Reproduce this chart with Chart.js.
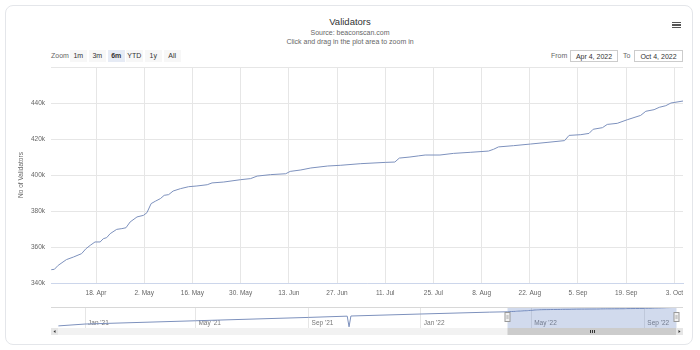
<!DOCTYPE html>
<html>
<head>
<meta charset="utf-8">
<script src="https://cdn.jsdelivr.net/npm/chart.js@4.4.0/dist/chart.umd.min.js"></script>
<style>
  html, body { margin: 0; padding: 0; background: #fff; }
  body { width: 700px; height: 350px; position: relative; overflow: hidden; font-family: "Liberation Sans", Arial, sans-serif; }
  .card { position: absolute; left: 5px; top: 5px; width: 688px; height: 340px; border: 1px solid #e4e6ea; border-radius: 8px; box-sizing: border-box; }
  .abs { position: absolute; white-space: nowrap; }
  .title { left: 0; width: 700px; top: 16px; text-align: center; font-size: 9.5px; color: #333; }
  .sub { left: 0; width: 700px; top: 27.5px; text-align: center; font-size: 7px; line-height: 9px; color: #666; }
  .menu { left: 672px; top: 22px; width: 9px; }
  .menu div { height: 1.3px; background: #555; margin-bottom: 1.2px; }
  .zoomlbl { left: 51px; top: 52px; font-size: 7px; color: #666; }
  .btn { top: 50px; width: 16.5px; height: 12px; line-height: 12px; background: #f7f7f7; text-align: center; font-size: 7px; color: #333; }
  .btn.sel { background: #e6ebf5; font-weight: bold; }
  .rl { top: 52px; font-size: 7px; color: #666; }
  .box { top: 50px; height: 12px; line-height: 11px; border: 1px solid #ccc; box-sizing: border-box; text-align: center; font-size: 7px; color: #333; }
  canvas { position: absolute; left: 0; }
</style>
</head>
<body>
<div class="card"></div>
<div class="abs title">Validators</div>
<div class="abs sub">Source: beaconscan.com<br>Click and drag in the plot area to zoom in</div>
<div class="abs menu"><div></div><div></div><div></div></div>
<div class="abs zoomlbl">Zoom</div>
<div id="buttons"></div>
<div class="abs rl" style="left:551px">From</div>
<div class="abs box" style="left:570px;width:48px">Apr 4, 2022</div>
<div class="abs rl" style="left:623px">To</div>
<div class="abs box" style="left:634px;width:49px">Oct 4, 2022</div>
<canvas id="mainChart" width="700" height="300" style="top:0"></canvas>
<canvas id="navChart" width="700" height="50" style="top:300px"></canvas>
<script>
// days counted from Apr 4, 2022
const dayOffsets = [1, 1.9, 3, 5.4, 7.4, 9.8, 11.1, 12.3, 13.7, 15.2, 16.1, 17.1, 18.1, 20, 21.5, 22.7, 23.9,
    25.9, 27.8, 28.8, 30, 31.2, 32.7, 33.8, 35.1, 36.4, 38.5, 40.9, 43.3, 46.3, 47.7, 51.1, 56, 58.9, 60.8,
    64.7, 69.1, 70.4, 73.5, 76.4, 81.3, 85.1, 90.9, 98, 100.8, 102.1, 105.2, 107.6, 109.6, 113.9, 117.8,
    122.7, 128, 129.5, 130.9, 135.3, 140.2, 145, 150.1, 151.4, 154.8, 157.2, 158.4, 161.1, 162.5, 165.4,
    168.3, 172.2, 173.7, 176.1, 177.6, 179.5, 181, 184.5];
// validators, in thousands
const validatorsK = [347.4, 347.6, 349.8, 353, 354.4, 356.3, 359.1, 360.9, 362.8, 362.8, 364.6, 365.2, 367.4,
    369.8, 370.2, 370.7, 373.9, 376.7, 377.6, 379.1, 384.1, 385.4, 386.9, 388.7, 389.1, 391.1, 392.4, 393.5,
    393.9, 394.6, 395.6, 396.1, 397.4, 398, 399.4, 400.2, 400.7, 402, 402.8, 403.9, 405, 405.4, 406.3, 407,
    407.2, 409.4, 410, 410.6, 411.1, 411.1, 412, 412.6, 413.3, 414.3, 415.6, 416.3, 417.2, 418.1, 419.1, 422,
    422.4, 423.1, 425.4, 426.3, 428.1, 428.7, 430.7, 433.1, 435.4, 436.3, 437.6, 438.5, 440, 441.1];

const xTickDays = [14, 28, 42, 56, 70, 84, 98, 112, 126, 140, 154, 168, 182];
const xTickLabels = ['18. Apr', '2. May', '16. May', '30. May', '13. Jun', '27. Jun', '11. Jul', '25. Jul',
    '8. Aug', '22. Aug', '5. Sep', '19. Sep', '3. Oct'];
const yTicks = [340, 360, 380, 400, 420, 440, 460];

// navigator: days counted from Jan 1, 2021 (earlier history, then the main series)
const navHistDays = [-29, 0, 120, 243, 285, 287, 289, 365, 440];
const navHistK = [45, 85, 155, 227, 254, 25, 257, 300, 340];
const navOffset = 458; // Apr 4, 2022
const navTickDays = [0, 120, 243, 365, 485, 608];
const navTickLabels = ["Jan '21", "May '21", "Sep '21", "Jan '22", "May '22", "Sep '22"];

const rangeButtons = ['1m', '3m', '6m', 'YTD', '1y', 'All'];
const btnLeft = [70, 89, 108, 126, 145, 164];

const FONT = "'Liberation Sans', Arial, sans-serif";
const LINE = '#7d91bd';

rangeButtons.forEach((b, i) => {
    const el = document.createElement('div');
    el.className = 'abs btn' + (b === '6m' ? ' sel' : '');
    el.style.left = btnLeft[i] + 'px';
    el.textContent = b;
    document.getElementById('buttons').appendChild(el);
});

const xMin = 0.92, xMax = 184.5;

new Chart(document.getElementById('mainChart').getContext('2d'), {
    type: 'line',
    data: {
        datasets: [{
            label: 'Validators',
            data: dayOffsets.map((d, i) => ({ x: d, y: validatorsK[i] })),
            borderColor: LINE,
            borderWidth: 1,
            pointRadius: 0,
            tension: 0,
            fill: false
        }]
    },
    options: {
        responsive: false,
        animation: false,
        layout: { padding: { left: 13, top: 67, right: 17, bottom: 3 } },
        plugins: { legend: { display: false }, tooltip: { enabled: false } },
        scales: {
            x: {
                type: 'linear',
                min: xMin,
                max: xMax,
                afterBuildTicks: s => { s.ticks = xTickDays.map(v => ({ value: v })); },
                afterFit: s => { s.height = 14; },
                grid: { color: '#e6e6e6', drawTicks: false },
                border: { color: '#ccd6eb' },
                ticks: {
                    padding: 6, color: '#666', font: { family: FONT, size: 6.5 }, maxRotation: 0, autoSkip: false,
                    callback: v => xTickLabels[xTickDays.indexOf(v)]
                }
            },
            y: {
                min: 340,
                max: 460,
                afterBuildTicks: s => { s.ticks = yTicks.map(v => ({ value: v })); },
                afterFit: s => { s.width = 38; },
                grid: { color: '#e6e6e6', drawTicks: false },
                border: { display: false },
                ticks: {
                    padding: 6, color: '#666', font: { family: FONT, size: 6.5 },
                    callback: v => v === 460 ? '' : v + 'k'
                },
                title: { display: true, text: 'No of Validators', color: '#666', font: { family: FONT, size: 6.5 }, padding: { top: 4, bottom: 4 } }
            }
        }
    }
});

const selStart = navOffset + xMin, selEnd = navOffset + xMax;

const navDecor = {
    id: 'navDecor',
    beforeDatasetsDraw(chart) {
        const { ctx, scales: { x } } = chart;
        ctx.save();
        ctx.font = '6.5px ' + FONT;
        ctx.fillStyle = '#777';
        ctx.textBaseline = 'middle';
        navTickDays.forEach((d, i) => ctx.fillText(navTickLabels[i], x.getPixelForValue(d) + 3, 23.5));
        ctx.restore();
    },
    afterDatasetsDraw(chart) {
        const { ctx, chartArea: a, scales: { x } } = chart;
        const x0 = Math.round(x.getPixelForValue(selStart)) + 0.5;
        const x1 = Math.round(x.getPixelForValue(selEnd)) + 0.5;
        ctx.save();
        // selected range
        ctx.fillStyle = 'rgba(102,133,194,0.3)';
        ctx.fillRect(x0, a.top, x1 - x0, a.bottom - a.top);
        // outline
        ctx.strokeStyle = '#d8d8d8';
        ctx.lineWidth = 1;
        ctx.beginPath();
        ctx.moveTo(a.left, a.top + 0.5); ctx.lineTo(a.right, a.top + 0.5);
        ctx.stroke();
        // handles
        [x0, x1].forEach(hx => {
            ctx.fillStyle = '#f2f2f2';
            ctx.strokeStyle = '#999';
            ctx.fillRect(hx - 2.5, 12.5, 5, 9);
            ctx.strokeRect(hx - 2.5, 12.5, 5, 9);
            ctx.beginPath();
            ctx.moveTo(hx - 0.5, 15); ctx.lineTo(hx - 0.5, 19);
            ctx.moveTo(hx + 0.5, 15); ctx.lineTo(hx + 0.5, 19);
            ctx.strokeStyle = '#bbb';
            ctx.stroke();
        });
        // scrollbar
        const sy = a.bottom, sh = 7;
        ctx.fillStyle = '#f2f2f2';
        ctx.fillRect(a.left, sy, a.right - a.left, sh);
        ctx.fillStyle = '#cccccc';
        ctx.fillRect(x0, sy, x1 - x0, sh);
        ctx.fillStyle = '#e6e6e6';
        ctx.fillRect(a.left, sy, 7, sh);
        ctx.fillRect(a.right - 7, sy, 7, sh);
        ctx.fillStyle = '#333';
        ctx.beginPath();
        ctx.moveTo(a.left + 2.5, sy + 3.5); ctx.lineTo(a.left + 4.5, sy + 2); ctx.lineTo(a.left + 4.5, sy + 5); ctx.fill();
        ctx.beginPath();
        ctx.moveTo(a.right - 2.5, sy + 3.5); ctx.lineTo(a.right - 4.5, sy + 2); ctx.lineTo(a.right - 4.5, sy + 5); ctx.fill();
        const gx = Math.round((x0 + x1) / 2);
        ctx.strokeStyle = '#333';
        ctx.beginPath();
        [-2, 0, 2].forEach(o => { ctx.moveTo(gx + o + 0.5, sy + 2); ctx.lineTo(gx + o + 0.5, sy + 5); });
        ctx.stroke();
        ctx.restore();
    }
};

const navDays = navHistDays.concat(dayOffsets.map(d => d + navOffset));
const navValues = navHistK.concat(validatorsK);

new Chart(document.getElementById('navChart').getContext('2d'), {
    type: 'line',
    data: {
        datasets: [{
            data: navDays.map((d, i) => ({ x: d, y: navValues[i] })),
            borderColor: LINE,
            borderWidth: 1,
            pointRadius: 0,
            tension: 0,
            fill: false
        }]
    },
    options: {
        responsive: false,
        animation: false,
        layout: { padding: { left: 51, top: 7, right: 17, bottom: 22 } },
        plugins: { legend: { display: false }, tooltip: { enabled: false } },
        scales: {
            x: {
                type: 'linear',
                min: -37,
                max: 650,
                afterBuildTicks: s => { s.ticks = navTickDays.map(v => ({ value: v })); },
                afterFit: s => { s.height = 0; },
                grid: { color: '#e6e6e6', drawTicks: false },
                border: { display: false },
                ticks: { display: false }
            },
            y: { display: false, min: 0, max: 450 }
        }
    },
    plugins: [navDecor]
});
</script>
</body>
</html>
